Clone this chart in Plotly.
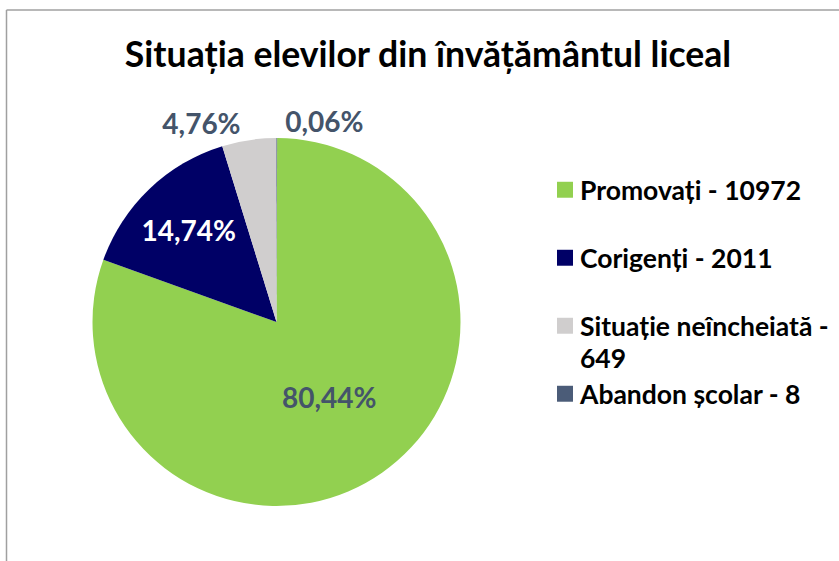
import plotly.graph_objects as go

categories = ["Promovați", "Corigenți", "Situație neîncheiată", "Abandon școlar"]
values = [10972, 2011, 649, 8]
legend_labels = [
    "Promovați - 10972<br> ",
    "Corigenți - 2011<br> ",
    "Situație neîncheiată -<br>649",
    "Abandon școlar - 8",
]
colors = ["#92D050", "#000066", "#D0CECE", "#4B5C78"]
text_colors = ["#44546A", "#FFFFFF", "#44546A", "#44546A"]
text_positions = ["inside", "inside", "outside", "outside"]

W, H = 839, 561
cx, cy, r = 276.5, 322, 184
LEG_FS = 25
LEG_TEXT_FS = 26.5

styled_labels = [
    "<br>".join(f'<span style="font-size:{LEG_TEXT_FS}px">{part}</span>' for part in lab.split("<br>"))
    for lab in legend_labels
]

fig = go.Figure(
    go.Pie(
        labels=styled_labels,
        values=values,
        sort=False,
        direction="clockwise",
        rotation=0.2,
        marker=dict(colors=colors, line=dict(width=0)),
        texttemplate="%{percent:.2%}",
        textposition=text_positions,
        textfont=dict(family="Lato", size=28, color=text_colors, weight="bold"),
        insidetextorientation="horizontal",
        hoverinfo="value+percent",
        domain=dict(x=[(cx - r) / W, (cx + r) / W], y=[1 - (cy + r) / H, 1 - (cy - r) / H]),
        showlegend=True,
    )
)

fig.update_layout(
    width=W,
    height=H,
    margin=dict(l=0, r=0, t=0, b=0),
    paper_bgcolor="white",
    plot_bgcolor="white",
    separators=",.",
    font=dict(family="Lato", color="black"),
    title=dict(
        text="<b>Situația elevilor din învățământul liceal</b>",
        x=428 / W,
        xanchor="center",
        y=1 - 55 / H,
        yanchor="middle",
        xref="paper",
        yref="paper",
        font=dict(family="Lato", size=35.6, color="black"),
    ),
    legend=dict(
        x=540 / W,
        xanchor="left",
        y=1 - 167 / H,
        yanchor="top",
        valign="top",
        font=dict(family="Lato", size=LEG_FS, color="black", weight="bold"),
        bgcolor="rgba(0,0,0,0)",
    ),
    shapes=[
        dict(type="line", xref="paper", yref="paper", x0=6.5 / W, x1=1, y0=1 - 10 / H, y1=1 - 10 / H,
             line=dict(color="#A0A0A0", width=1.5)),
        dict(type="line", xref="paper", yref="paper", x0=6.5 / W, x1=6.5 / W, y0=0, y1=1 - 10 / H,
             line=dict(color="#A0A0A0", width=1.5)),
    ],
)

post_js = """
document.body.style.margin='0';
document.querySelectorAll('.legendpoints path.legendpie').forEach(function(p){
  p.setAttribute('transform', 'translate(25,0) scale(1.33)');
});
"""

fig.write_html(
    "out.html",
    config={"displayModeBar": False},
    post_script=post_js,
)
